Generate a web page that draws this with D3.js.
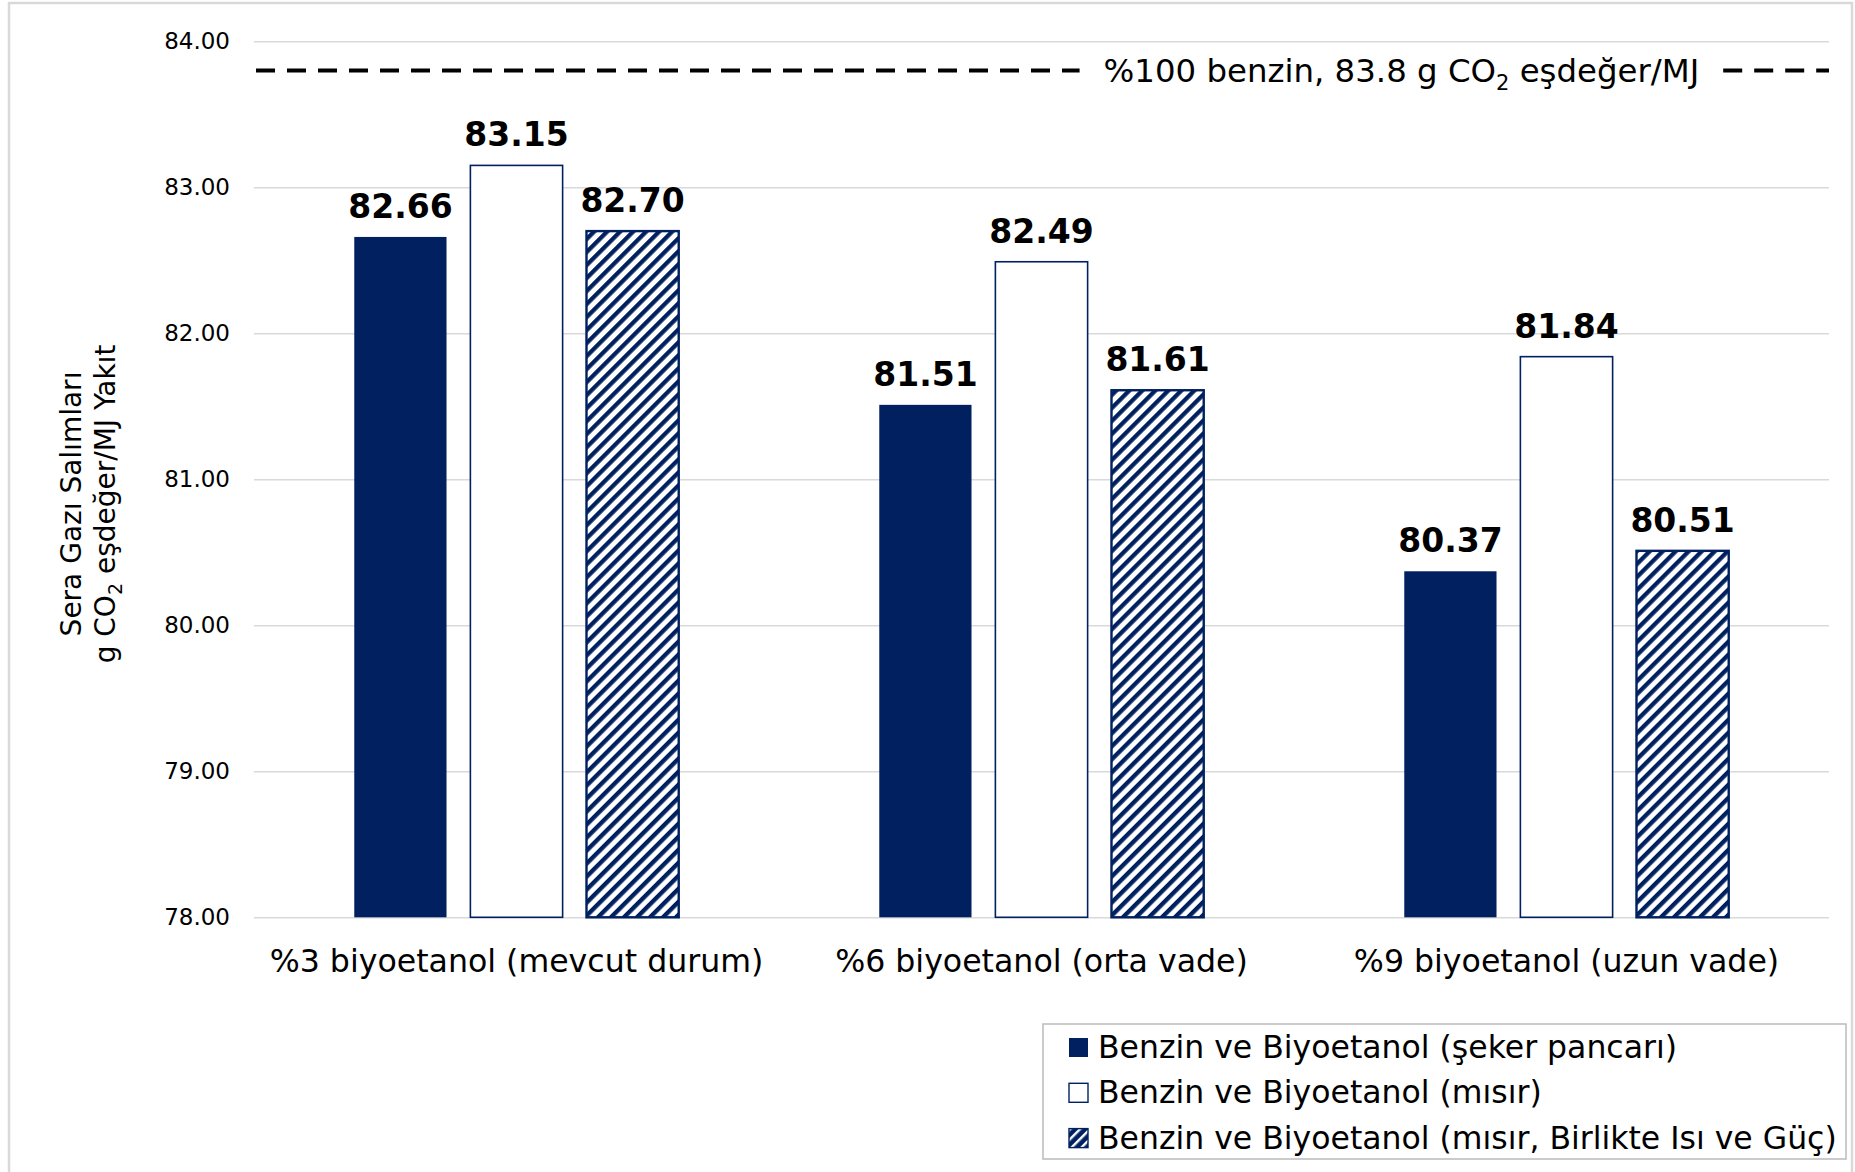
<!DOCTYPE html>
<html lang="tr">
<head>
<meta charset="utf-8">
<title>Sera Gazı Salımları</title>
<script src="https://cdn.jsdelivr.net/npm/d3@7"></script>
<style>
  html, body { margin: 0; padding: 0; background: #ffffff; }
  svg { display: block; font-family: "DejaVu Sans", Verdana, sans-serif; }
</style>
</head>
<body>
<svg id="chart" width="1855" height="1172"></svg>
<script>
// Scenario categories (x axis)
const categories = [
  "%3 biyoetanol (mevcut durum)",
  "%6 biyoetanol (orta vade)",
  "%9 biyoetanol (uzun vade)"
];

// Series names shown in the legend
const seriesNames = [
  "Benzin ve Biyoetanol (şeker pancarı)",
  "Benzin ve Biyoetanol (mısır)",
  "Benzin ve Biyoetanol (mısır, Birlikte Isı ve Güç)"
];

// Emissions, g CO2 eq./MJ fuel, one value per category
const sekerPancari = [82.66, 81.51, 80.37];
const misir = [83.15, 82.49, 81.84];
const misirBIG = [82.70, 81.61, 80.51];

// Reference: 100% gasoline
const benzinDegeri = 83.8;

// Y axis ticks
const yTicks = [78, 79, 80, 81, 82, 83, 84];

const seriesValues = [sekerPancari, misir, misirBIG];
const seriesKeys = ["seker", "misir", "misirBIG"];

const W = 1855, H = 1172;
const margin = { left: 254, right: 1829, top: 41.3, bottom: 917.3 };
const navy = "#002060";
const gridColor = "#d9d9d9";

const svg = d3.select("#chart");

// Diagonal hatch for the combined heat & power series
const defs = svg.append("defs");
const hatch = defs.append("pattern")
  .attr("id", "hatch")
  .attr("patternUnits", "userSpaceOnUse")
  .attr("width", 9.2)
  .attr("height", 9.2)
  .attr("patternTransform", "rotate(45)");
hatch.append("rect").attr("width", 9.2).attr("height", 9.2).attr("fill", "#ffffff");
hatch.append("rect").attr("x", 0).attr("y", 0).attr("width", 4.3).attr("height", 9.2).attr("fill", navy);

const hatchSmall = defs.append("pattern")
  .attr("id", "hatchSmall")
  .attr("patternUnits", "userSpaceOnUse")
  .attr("width", 7)
  .attr("height", 7)
  .attr("patternTransform", "rotate(45)");
hatchSmall.append("rect").attr("width", 7).attr("height", 7).attr("fill", navy);
hatchSmall.append("rect").attr("x", 0).attr("y", 0).attr("width", 2.4).attr("height", 7).attr("fill", "#ffffff");

const fills = {
  seker: navy,
  misir: "#ffffff",
  misirBIG: "url(#hatch)"
};

// Outer chart frame
svg.append("rect")
  .attr("x", 9).attr("y", 3)
  .attr("width", W - 12).attr("height", H + 10)
  .attr("fill", "#ffffff")
  .attr("stroke", gridColor)
  .attr("stroke-width", 2.5);

// Scales
const y = d3.scaleLinear().domain([78, 84]).range([margin.bottom, margin.top]);
const x0 = d3.scaleBand()
  .domain(categories)
  .range([margin.left, margin.right])
  .paddingInner(0.382)
  .paddingOuter(0.191);
const x1 = d3.scaleBand()
  .domain(seriesKeys)
  .range([0, x0.bandwidth()])
  .paddingInner(0.2056)
  .paddingOuter(0);

// Grid lines + y tick labels
const yAxis = d3.axisLeft(y)
  .tickValues(yTicks)
  .tickFormat(d3.format(".2f"))
  .tickSize(-(margin.right - margin.left))
  .tickPadding(24);

const gy = svg.append("g")
  .attr("transform", `translate(${margin.left},0)`)
  .call(yAxis);
gy.select(".domain").remove();
gy.selectAll(".tick line").attr("stroke", gridColor).attr("stroke-width", 1.6);
gy.selectAll(".tick text")
  .attr("fill", "#000000")
  .style("font-size", "23px")
  .style("font-family", "'DejaVu Sans', sans-serif");

// Bars
const rows = categories.map((c, i) => ({
  category: c,
  values: seriesKeys.map((k, j) => ({ key: k, value: seriesValues[j][i] }))
}));

const groups = svg.append("g").selectAll("g")
  .data(rows)
  .join("g")
  .attr("transform", d => `translate(${x0(d.category)},0)`);

groups.selectAll("rect")
  .data(d => d.values)
  .join("rect")
  .attr("x", d => x1(d.key))
  .attr("y", d => y(d.value))
  .attr("width", x1.bandwidth())
  .attr("height", d => y(78) - y(d.value))
  .attr("fill", d => fills[d.key])
  .attr("stroke", d => d.key === "seker" ? "none" : navy)
  .attr("stroke-width", d => d.key === "misirBIG" ? 2.4 : 1.6);

// Value labels
groups.selectAll("text.val")
  .data(d => d.values)
  .join("text")
  .attr("class", "val")
  .attr("x", d => x1(d.key) + x1.bandwidth() / 2)
  .attr("y", d => y(d.value) - 19)
  .attr("text-anchor", "middle")
  .style("font-size", "33px")
  .style("font-weight", "bold")
  .attr("fill", "#000000")
  .text(d => d3.format(".2f")(d.value));

// X axis category labels
const xAxis = d3.axisBottom(x0).tickSize(0).tickPadding(0);
const gx = svg.append("g")
  .attr("transform", `translate(0,${margin.bottom})`)
  .call(xAxis);
gx.select(".domain").remove();
gx.selectAll(".tick text")
  .attr("dy", null)
  .attr("y", 972 - margin.bottom)
  .attr("fill", "#000000")
  .style("font-size", "31.6px")
  .style("font-family", "'DejaVu Sans', sans-serif");

// 100% gasoline reference line with inline label
const refY = y(benzinDegeri);
const refLabel = svg.append("text")
  .attr("x", margin.left + (margin.right - margin.left) * 0.7285)
  .attr("y", refY + 11)
  .attr("text-anchor", "middle")
  .style("font-size", "32.4px")
  .attr("fill", "#000000");
refLabel.append("tspan").text(`%100 benzin, ${d3.format(".1f")(benzinDegeri)} g CO`);
refLabel.append("tspan").attr("dy", 8).style("font-size", "21px").text("2");
refLabel.append("tspan").attr("dy", -8).text(" eşdeğer/MJ");

const lb = refLabel.node().getBBox();
const gap = 24;
const refSegments = [
  [margin.left + 2, lb.x - gap],
  [lb.x + lb.width + gap, margin.right]
];
svg.append("g").selectAll("line")
  .data(refSegments)
  .join("line")
  .attr("x1", d => d[0])
  .attr("x2", d => d[1])
  .attr("y1", refY)
  .attr("y2", refY)
  .attr("stroke", "#000000")
  .attr("stroke-width", 4)
  .attr("stroke-dasharray", "19 12");

// Y axis title (two lines, rotated)
const yTitle = svg.append("text")
  .attr("transform", "translate(0,504) rotate(-90)")
  .attr("text-anchor", "middle")
  .style("font-size", "28px")
  .attr("fill", "#000000");
yTitle.append("tspan").attr("x", 0).attr("y", 81).text("Sera Gazı Salımları");
const t2 = yTitle.append("tspan").attr("x", 0).attr("y", 115);
t2.append("tspan").text("g CO");
t2.append("tspan").attr("dy", 7).style("font-size", "19px").text("2");
t2.append("tspan").attr("dy", -7).text(" eşdeğer/MJ Yakıt");

// Legend
const legend = svg.append("g");
legend.append("rect")
  .attr("x", 1043).attr("y", 1024)
  .attr("width", 803).attr("height", 135)
  .attr("fill", "#ffffff")
  .attr("stroke", "#bfbfbf")
  .attr("stroke-width", 1.6);

const li = legend.selectAll("g.item")
  .data(seriesNames)
  .join("g")
  .attr("class", "item")
  .attr("transform", (d, i) => `translate(1069,${1038 + i * 45.3})`);

li.append("rect")
  .attr("width", 19).attr("height", 19)
  .attr("fill", (d, i) => i === 0 ? navy : (i === 1 ? "#ffffff" : "url(#hatchSmall)"))
  .attr("stroke", (d, i) => i === 0 ? "none" : navy)
  .attr("stroke-width", 1.4);

li.append("text")
  .attr("x", 29)
  .attr("y", 20)
  .style("font-size", "31.5px")
  .attr("fill", "#000000")
  .text(d => d);
</script>
</body>
</html>
